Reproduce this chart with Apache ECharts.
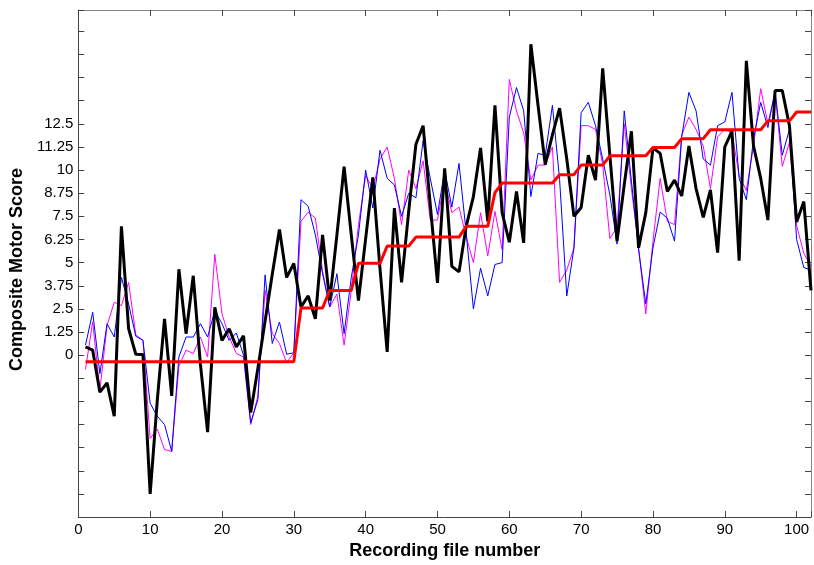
<!DOCTYPE html>
<html>
<head>
<meta charset="utf-8">
<script src="https://cdn.jsdelivr.net/npm/echarts@6/dist/echarts.min.js"></script>
<style>html,body{margin:0;padding:0;background:#fff;}#chart{width:814px;height:565px;}</style>
</head>
<body>
<div id="chart"></div>
<script>
// Recording file numbers 1..102
var fileNumbers = [];
for (var k = 1; k <= 102; k++) fileNumbers.push(k);

var blackScores = [0.45,0.27,-2.0,-1.5,-3.3,6.96,1.43,0.05,0.03,-7.5,
  -2.4,1.96,-2.2,4.64,1.16,4.29,-0.5,-4.16,2.59,0.8,
  1.43,0.45,1.04,-3.1,-0.7,1.84,4.37,6.79,4.2,4.95,
  2.6,3.2,1.96,6.5,2.95,6.5,10.18,6.5,2.95,6.3,
  9.6,4.66,0.18,7.95,3.93,7.8,11.4,12.4,8.1,3.9,
  10.1,4.8,4.5,6.96,8.57,11.2,7.23,13.5,7.7,6.1,
  8.84,6.07,16.8,13.5,10.3,11.9,13.35,10.6,7.5,7.98,
  10.8,9.46,15.5,10.8,6.16,9.2,12.1,5.8,7.7,11.2,
  10.9,8.84,9.46,8.6,11.3,9.0,7.45,8.93,5.54,11.25,
  12.1,5.1,15.9,11.3,9.55,7.3,14.3,14.3,12.4,7.2,
  8.3,3.5];

var blueScores = [0.54,2.32,-1.0,1.7,0.98,4.2,2.77,1.02,0.8,-2.6,
  -3.3,-3.75,-5.2,-0.1,0.98,0.98,1.7,0.98,2.4,1.7,
  0.8,1.2,0.0,-3.66,-2.4,4.34,0.63,1.79,0.05,0.13,
  8.4,8.04,6.5,4.4,2.6,4.4,1.16,4.2,6.5,10.0,
  7.95,11.07,9.55,9.2,7.5,8.75,8.5,11.6,9.55,7.6,
  10.0,8.0,10.36,6.6,2.5,4.7,3.2,4.9,5.0,12.86,
  14.46,13.2,8.57,10.9,10.8,13.5,9.5,3.2,5.8,13.1,
  13.66,12.4,10.6,8.66,6.0,13.2,9.4,5.7,2.77,5.8,
  7.73,7.4,6.16,11.8,14.2,13.2,10.6,10.27,12.4,12.6,
  14.2,9.55,8.4,11.7,13.66,12.3,14.3,10.8,12.2,6.25,
  4.73,4.6];

var magentaScores = [-0.77,1.8,-1.9,1.6,2.86,2.68,3.93,1.1,0.8,-4.5,
  -4.0,-5.1,-5.2,-0.6,0.27,0.09,0.98,-0.1,5.45,2.23,
  0.98,0.09,-0.1,-3.75,-2.2,3.5,1.16,0.63,-0.41,0.13,
  7.23,7.73,7.4,4.55,2.6,3.3,0.54,3.5,7.05,9.7,
  9.0,10.6,11.25,9.55,7.05,10.0,9.0,10.5,7.3,7.3,
  9.46,7.7,8.0,6.4,5.0,7.7,5.36,7.77,5.7,14.9,
  13.2,12.0,9.46,10.27,10.27,11.25,3.93,4.6,5.8,12.4,
  12.4,12.2,10.3,6.3,6.9,12.5,9.0,5.8,2.23,6.16,
  9.55,7.23,7.05,11.9,12.86,12.2,11.3,9.0,11.8,12.2,
  12.0,9.7,8.9,11.3,14.4,12.5,14.2,10.2,11.5,7.0,
  5.5,4.8];

var redScores = [-0.35,-0.35,-0.35,-0.35,-0.35,-0.35,-0.35,-0.35,-0.35,-0.35,
  -0.35,-0.35,-0.35,-0.35,-0.35,-0.35,-0.35,-0.35,-0.35,-0.35,
  -0.35,-0.35,-0.35,-0.35,-0.35,-0.35,-0.35,-0.35,-0.35,-0.35,
  2.55,2.55,2.55,2.55,3.5,3.5,3.5,3.5,4.96,4.96,
  4.96,4.96,5.9,5.9,5.9,5.9,6.38,6.38,6.38,6.38,
  6.38,6.38,6.38,6.96,6.96,6.96,6.96,8.78,9.3,9.3,
  9.3,9.3,9.3,9.3,9.3,9.3,9.75,9.75,9.75,10.27,
  10.27,10.27,10.27,10.77,10.77,10.77,10.77,10.77,10.77,11.22,
  11.22,11.22,11.22,11.7,11.7,11.7,11.7,12.18,12.18,12.18,
  12.18,12.18,12.18,12.18,12.18,12.66,12.66,12.66,12.66,13.14,
  13.14,13.14];

var yTickLabels = ['0','1.25','2.5','3.75','5','6.25','7.5','8.75','10','11.25','12.5'];
var xTickLabels = ['0','10','20','30','40','50','60','70','80','90','100'];

function pairs(vals) {
  return fileNumbers.map(function (x, i) { return [x, vals[i]]; });
}

var chart = echarts.init(document.getElementById('chart'), null, {renderer: 'canvas'});
var labelFont = {fontFamily: 'Liberation Sans, Arial, sans-serif', fontSize: 15, color: '#000'};
var titleFont = {fontFamily: 'Liberation Sans, Arial, sans-serif', fontSize: 18, fontWeight: 'bold', color: '#000'};

function yFmt(v) {
  var s = String(Math.round(v * 100) / 100);
  return yTickLabels.indexOf(s) >= 0 ? s : '';
}
function xFmt(v) {
  var s = String(Math.round(v));
  return (Math.abs(v - Math.round(v)) < 1e-6 && xTickLabels.indexOf(s) >= 0) ? s : '';
}

var axisCommon = {
  type: 'value',
  splitLine: {show: false},
  axisTick: {inside: true, length: 6, lineStyle: {color: '#444', width: 1}}
};

chart.setOption({
  animation: false,
  backgroundColor: '#fff',
  grid: {left: 76, right: 1, top: 10, bottom: 43, containLabel: false},
  xAxis: [
    Object.assign({}, axisCommon, {
      position: 'bottom', min: 0, max: 102, interval: 10,
      axisLine: {show: true, onZero: false, lineStyle: {color: '#444', width: 1}},
      axisLabel: Object.assign({margin: 5, formatter: xFmt}, labelFont),
      name: 'Recording file number', nameLocation: 'middle', nameGap: 22,
      nameTextStyle: titleFont
    }),
    Object.assign({}, axisCommon, {
      position: 'top', min: 0, max: 102, interval: 10,
      axisLine: {show: true, onZero: false, lineStyle: {color: '#888', width: 1}},
      axisLabel: {show: false}
    })
  ],
  yAxis: [
    Object.assign({}, axisCommon, {
      position: 'left', min: -8.75, max: 18.65, interval: 1.25,
      axisLine: {show: true, onZero: false, lineStyle: {color: '#444', width: 1}},
      axisLabel: Object.assign({margin: 5, formatter: yFmt}, labelFont),
      name: 'Composite Motor Score', nameLocation: 'middle', nameGap: 41,
      nameTextStyle: Object.assign({padding: [0, 12, 0, 0]}, titleFont)
    }),
    Object.assign({}, axisCommon, {
      position: 'right', min: -8.75, max: 18.65, interval: 1.25,
      axisLine: {show: true, onZero: false, lineStyle: {color: '#888', width: 1}},
      axisLabel: {show: false}
    })
  ],
  series: [
    {type: 'line', name: 'magenta', data: pairs(magentaScores), showSymbol: false, symbol: 'none',
     lineStyle: {color: '#ff00ff', width: 1}, z: 2},
    {type: 'line', name: 'blue', data: pairs(blueScores), showSymbol: false, symbol: 'none',
     lineStyle: {color: '#0000ff', width: 1}, z: 3},
    {type: 'line', name: 'black', data: pairs(blackScores), showSymbol: false, symbol: 'none',
     lineStyle: {color: '#000000', width: 3}, z: 4},
    {type: 'line', name: 'red', data: pairs(redScores), showSymbol: false, symbol: 'none',
     lineStyle: {color: '#ff0000', width: 3}, z: 5}
  ]
});
</script>
</body>
</html>
